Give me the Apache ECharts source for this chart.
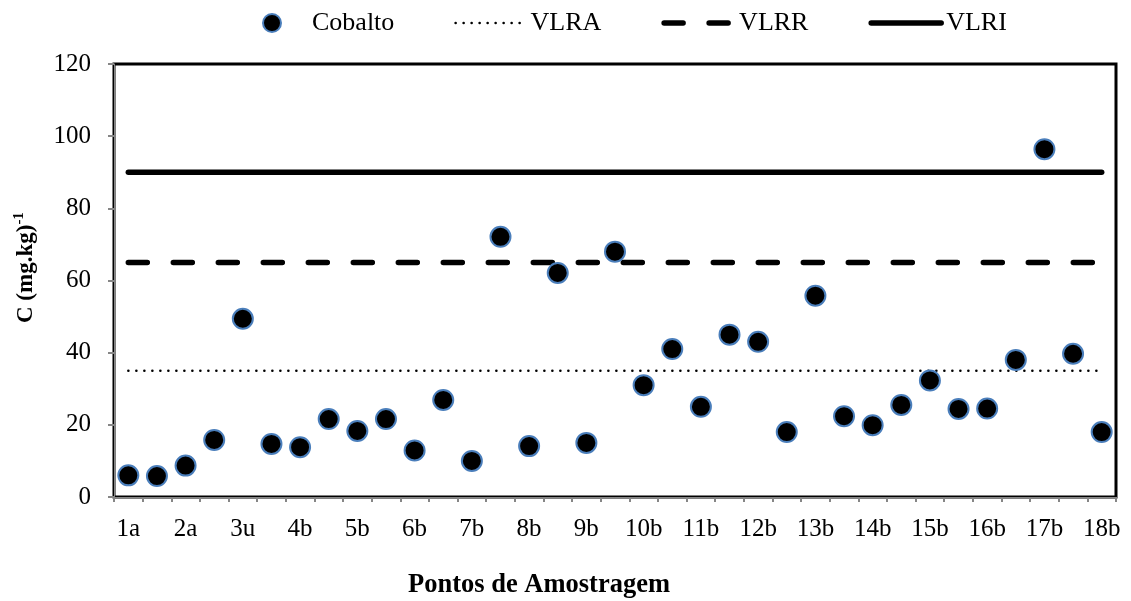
<!DOCTYPE html>
<html>
<head>
<meta charset="utf-8">
<script src="https://cdn.jsdelivr.net/npm/echarts@6/dist/echarts.min.js"></script>
<style>
html,body{margin:0;padding:0;background:#fff;}
#chart{width:1131px;height:601px;}
</style>
</head>
<body>
<div id="chart"></div>
<script>
// Sampling points (only every other point is labelled on the axis)
const categories = ['1a','','2a','','3u','','4b','','5b','','6b','','7b','','8b','','9b','',
  '10b','','11b','','12b','','13b','','14b','','15b','','16b','','17b','','18b'];
const cobalto = [6, 5.8, 8.7, 15.8, 49.4, 14.7, 13.8, 21.6, 18.3, 21.6, 12.9, 26.9, 10, 72.1,
  14.1, 62.1, 15, 68, 31, 41, 25, 45, 43, 18, 55.8, 22.4, 19.9, 25.5, 32.3, 24.4, 24.5, 38, 96.4, 39.7, 18];
const VLRA = 35;
const VLRR = 65;
const VLRI = 90;
const yTicks = { min: 0, max: 120, interval: 20 };

const FONT = '"Liberation Serif", "Times New Roman", serif';
const first = categories[0], last = categories[categories.length - 1];

const dotted = { color: '#000', width: 2.5, type: [0.1, 7.9], cap: 'round' };
const dashed = { color: '#000', width: 5.5, type: [19, 26], cap: 'round' };
const solid = { color: '#000', width: 5.5, type: 'solid', cap: 'round' };
const hideSym = { opacity: 0, color: 'transparent', borderWidth: 0 };

const chart = echarts.init(document.getElementById('chart'), null, { renderer: 'canvas' });
chart.setOption({
  animation: false,
  backgroundColor: '#fff',
  textStyle: { fontFamily: FONT },
  legend: {
    left: 257, top: 5,
    itemWidth: 70, itemHeight: 18, itemGap: 60,
    textStyle: { fontFamily: FONT, fontSize: 26, color: '#000' },
    data: [
      { name: 'Cobalto' },
      { name: 'VLRA', lineStyle: dotted, itemStyle: hideSym },
      { name: 'VLRR', lineStyle: dashed, itemStyle: hideSym },
      { name: 'VLRI', lineStyle: solid, itemStyle: hideSym }
    ]
  },
  grid: {
    left: 114, right: 15, top: 64, bottom: 104,
    show: true, borderColor: '#000', borderWidth: 3, backgroundColor: 'transparent'
  },
  xAxis: {
    type: 'category',
    data: categories,
    boundaryGap: true,
    axisLine: { lineStyle: { color: '#868686', width: 1 } },
    axisTick: { show: true, interval: 0, length: 5, lineStyle: { color: '#868686', width: 2 } },
    axisLabel: { interval: 0, margin: 20, color: '#000', fontFamily: FONT, fontSize: 25 },
    splitLine: { show: false }
  },
  yAxis: {
    type: 'value',
    min: yTicks.min, max: yTicks.max, interval: yTicks.interval,
    axisLine: { show: true, lineStyle: { color: '#868686', width: 1 } },
    axisTick: { show: true, length: 6, lineStyle: { color: '#868686', width: 2 } },
    axisLabel: { margin: 23, color: '#000', fontFamily: FONT, fontSize: 25 },
    splitLine: { show: false }
  },
  graphic: [
    {
      type: 'text', left: 408, top: 572,
      style: { text: 'Pontos de Amostragem', font: 'bold 26.5px ' + FONT, fill: '#000' }
    },
    {
      type: 'text', x: 12, y: 323, rotation: Math.PI / 2,
      style: {
        text: '{m|C (mg.kg)}{s|-1}',
        rich: {
          m: { font: 'bold 23px ' + FONT, fill: '#000', lineHeight: 26, verticalAlign: 'bottom' },
          s: { font: 'bold 15px ' + FONT, fill: '#000', lineHeight: 26, verticalAlign: 'top' }
        },
        verticalAlign: 'top', align: 'left'
      }
    }
  ],
  series: [
    {
      name: 'VLRA', type: 'line', showSymbol: false, symbol: 'none',
      data: [[first, VLRA], [last, VLRA]],
      lineStyle: dotted, itemStyle: { color: '#000' }, z: 2
    },
    {
      name: 'VLRR', type: 'line', showSymbol: false, symbol: 'none',
      data: [[first, VLRR], [last, VLRR]],
      lineStyle: dashed, itemStyle: { color: '#000' }, z: 2
    },
    {
      name: 'VLRI', type: 'line', showSymbol: false, symbol: 'none',
      data: [[first, VLRI], [last, VLRI]],
      lineStyle: solid, itemStyle: { color: '#000' }, z: 2
    },
    {
      name: 'Cobalto', type: 'scatter',
      data: cobalto,
      symbol: 'circle', symbolSize: 20,
      itemStyle: { color: '#000', borderColor: '#4a7ebb', borderWidth: 2, opacity: 1 },
      z: 3
    }
  ]
});
</script>
</body>
</html>
